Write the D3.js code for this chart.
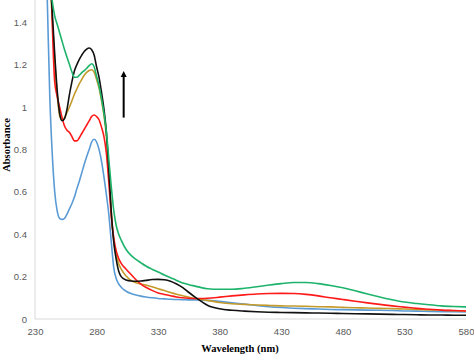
<!DOCTYPE html>
<html>
<head>
<meta charset="utf-8">
<script src="https://cdn.jsdelivr.net/npm/d3@7"></script>
<style>
  html, body { margin: 0; padding: 0; background: #fff; }
  svg { display: block; }
</style>
</head>
<body>
<div id="chart"></div>
<script>
const wavelengths = [236,240,242,244,246,248,250,252,254,256,258,260,262,264,266,268,270,272,274,276,278,280,282,284,286,288,290,292,294,296,298,300,304,308,312,316,320,325,330,335,340,345,350,355,360,365,370,380,390,400,410,420,430,440,450,460,470,480,490,500,510,520,530,540,550,560,570,580];

const blue   = [2.2,1.5,1.05,0.78,0.6,0.51,0.475,0.47,0.475,0.495,0.52,0.545,0.575,0.615,0.65,0.69,0.73,0.766,0.8,0.835,0.848,0.835,0.8,0.745,0.67,0.585,0.49,0.36,0.24,0.19,0.165,0.15,0.131,0.12,0.113,0.108,0.104,0.1,0.097,0.095,0.093,0.092,0.091,0.09,0.09,0.089,0.088,0.083,0.077,0.07,0.064,0.058,0.054,0.051,0.049,0.047,0.045,0.044,0.043,0.042,0.041,0.04,0.038,0.037,0.036,0.035,0.034,0.033];
const black  = [2.5,1.9,1.65,1.45,1.25,1.08,0.97,0.935,0.945,0.99,1.06,1.12,1.17,1.2,1.225,1.245,1.262,1.273,1.278,1.27,1.245,1.19,1.14,1.07,0.99,0.88,0.7,0.5,0.36,0.28,0.225,0.2,0.184,0.179,0.178,0.179,0.182,0.186,0.187,0.185,0.178,0.165,0.148,0.125,0.103,0.083,0.065,0.048,0.041,0.037,0.034,0.032,0.031,0.03,0.029,0.028,0.027,0.026,0.025,0.024,0.023,0.022,0.021,0.02,0.019,0.019,0.018,0.018];
const orange = [2.5,1.85,1.62,1.42,1.22,1.06,0.96,0.94,0.95,0.975,1.0,1.03,1.06,1.085,1.11,1.13,1.15,1.163,1.172,1.176,1.165,1.13,1.09,1.03,0.96,0.86,0.7,0.5,0.37,0.3,0.26,0.235,0.203,0.182,0.171,0.165,0.16,0.152,0.143,0.134,0.125,0.117,0.11,0.103,0.097,0.092,0.088,0.078,0.072,0.069,0.066,0.064,0.062,0.061,0.06,0.058,0.057,0.055,0.053,0.052,0.05,0.049,0.047,0.045,0.043,0.041,0.039,0.038];
const red    = [2.6,2.0,1.85,1.4,1.12,1.05,1.0,0.95,0.91,0.89,0.88,0.86,0.84,0.84,0.855,0.875,0.895,0.915,0.935,0.955,0.962,0.955,0.94,0.905,0.86,0.78,0.64,0.48,0.38,0.32,0.285,0.262,0.235,0.21,0.185,0.165,0.15,0.135,0.123,0.116,0.11,0.104,0.1,0.098,0.097,0.097,0.098,0.103,0.109,0.114,0.118,0.12,0.121,0.12,0.116,0.109,0.1,0.092,0.084,0.076,0.069,0.062,0.056,0.05,0.046,0.042,0.04,0.038];
const green  = [2.7,1.75,1.6,1.5,1.43,1.39,1.35,1.31,1.27,1.235,1.2,1.165,1.14,1.14,1.15,1.162,1.172,1.183,1.195,1.204,1.19,1.145,1.1,1.04,0.97,0.88,0.75,0.62,0.51,0.44,0.4,0.372,0.328,0.3,0.281,0.265,0.25,0.235,0.222,0.208,0.195,0.182,0.17,0.162,0.155,0.148,0.143,0.14,0.14,0.145,0.152,0.16,0.167,0.172,0.172,0.167,0.158,0.147,0.133,0.118,0.104,0.091,0.08,0.073,0.067,0.062,0.059,0.057];

const seriesNames = ["blue","orange","red","black","green"];
const seriesValues = [blue, orange, red, black, green];
const seriesColors = ["#5b9bd5","#c49a2a","#ff1a1a","#111111","#1db36b"];

const xTicks = [230,280,330,380,430,480,530,580];
const yTicks = [0,0.2,0.4,0.6,0.8,1,1.2,1.4];
const xTitle = "Wavelength (nm)";
const yTitle = "Absorbance";

const W = 474, H = 357;
const mLeft = 35, mRight = 466, mTop = 1, mBottom = 319;

const svg = d3.select("#chart").append("svg").attr("width", W).attr("height", H);

const x = d3.scaleLinear().domain([230, 580]).range([mLeft, mRight]);
const y = d3.scaleLinear().domain([0, 1.5]).range([mBottom, mTop]);

svg.append("defs").append("clipPath").attr("id", "clip")
  .append("rect").attr("x", mLeft).attr("y", 0).attr("width", mRight - mLeft + 2).attr("height", mBottom);

// axes lines
svg.append("line").attr("x1", mLeft).attr("x2", mLeft).attr("y1", 0).attr("y2", mBottom)
  .attr("stroke", "#d9d9d9").attr("stroke-width", 1);
svg.append("line").attr("x1", mLeft).attr("x2", mRight).attr("y1", mBottom).attr("y2", mBottom)
  .attr("stroke", "#d9d9d9").attr("stroke-width", 1);

const yAxis = d3.axisLeft(y).tickValues(yTicks).tickSize(0).tickPadding(8)
  .tickFormat(d => d3.format("")(d));
const gy = svg.append("g").attr("transform", `translate(${mLeft},0)`).call(yAxis);
gy.select(".domain").remove();
gy.selectAll("text").attr("fill", "#595959").style("font-family", "'Liberation Sans', Arial, sans-serif").style("font-size", "9.5px");

const xAxis = d3.axisBottom(x).tickValues(xTicks).tickSize(0).tickPadding(9);
const gx = svg.append("g").attr("transform", `translate(0,${mBottom})`).call(xAxis);
gx.select(".domain").remove();
gx.selectAll("text").attr("fill", "#595959").style("font-family", "'Liberation Sans', Arial, sans-serif").style("font-size", "9.5px");

const line = d3.line().x(d => x(d[0])).y(d => y(d[1])).curve(d3.curveMonotoneX);

const plot = svg.append("g").attr("clip-path", "url(#clip)");
seriesValues.forEach((vals, i) => {
  const pts = wavelengths.map((w, j) => [w, vals[j]]);
  plot.append("path").datum(pts)
    .attr("d", line)
    .attr("fill", "none")
    .attr("stroke", seriesColors[i])
    .attr("stroke-width", 1.6)
    .attr("stroke-linejoin", "round");
});

// arrow
const arrowX = x(302), arrowY1 = y(0.95), arrowY2 = y(1.17);
svg.append("line").attr("x1", arrowX).attr("x2", arrowX).attr("y1", arrowY1).attr("y2", arrowY2 + 5)
  .attr("stroke", "#000").attr("stroke-width", 2);
svg.append("path")
  .attr("d", `M${arrowX - 3},${arrowY2 + 6} L${arrowX},${arrowY2} L${arrowX + 3},${arrowY2 + 6} Z`)
  .attr("fill", "#000");

// titles
svg.append("text").attr("x", 240).attr("y", 352).attr("text-anchor", "middle")
  .style("font-family", "'Liberation Serif', 'Times New Roman', serif").style("font-weight", "bold").style("font-size", "10.5px")
  .attr("fill", "#000").text(xTitle);
svg.append("text").attr("transform", `translate(10,145) rotate(-90)`).attr("text-anchor", "middle")
  .style("font-family", "'Liberation Serif', 'Times New Roman', serif").style("font-weight", "bold").style("font-size", "10.5px")
  .attr("fill", "#000").text(yTitle);
</script>
</body>
</html>
